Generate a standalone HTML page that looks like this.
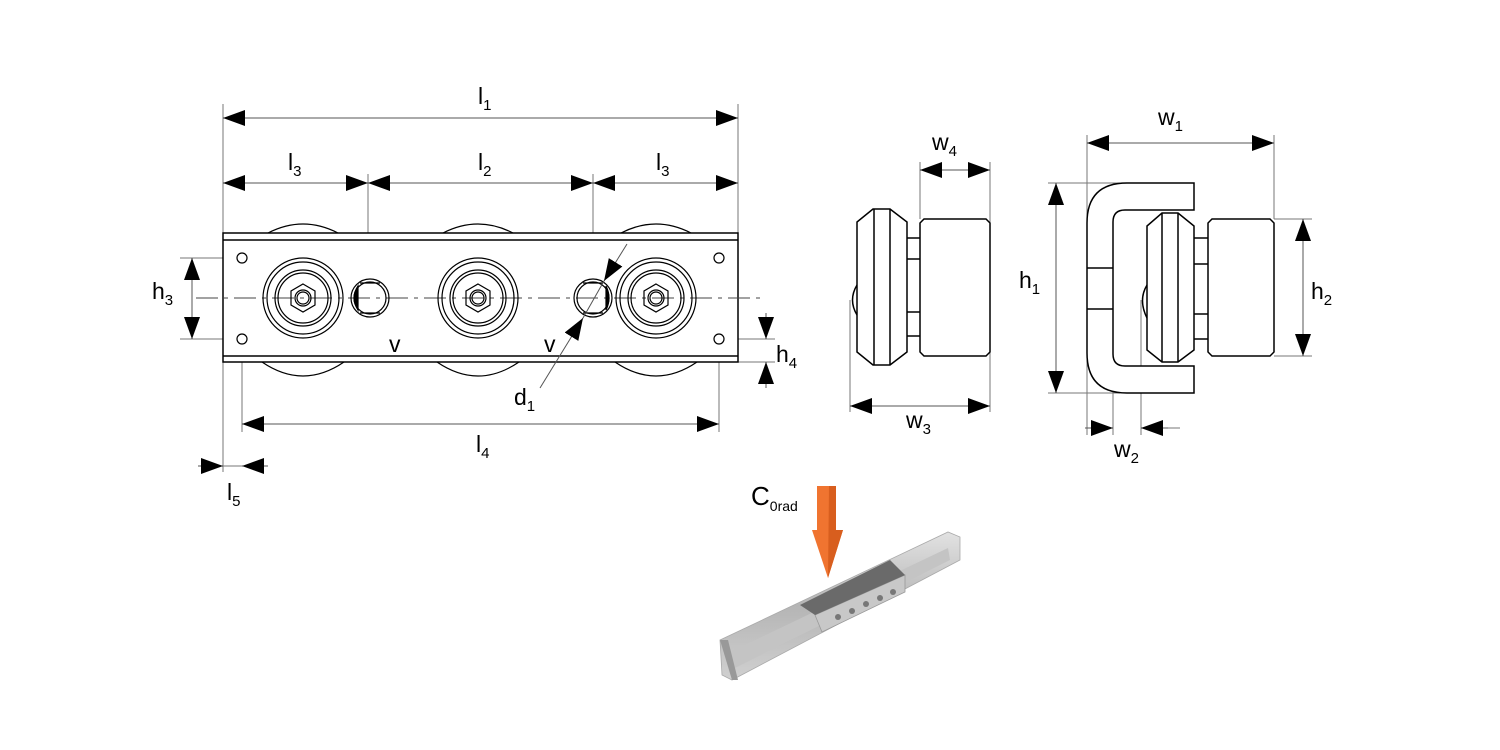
<!DOCTYPE html>
<html><head><meta charset="utf-8"><style>
html,body{margin:0;padding:0;background:#fff;}
svg{display:block;}
text{font-family:"Liberation Sans",Arial,sans-serif;fill:#000;}
</style></head><body>
<svg width="1500" height="750" viewBox="0 0 1500 750" xmlns="http://www.w3.org/2000/svg">
<defs>
<marker id="a" viewBox="0 0 22 16" refX="22" refY="8" markerWidth="22" markerHeight="16" markerUnits="userSpaceOnUse" orient="auto-start-reverse">
<path d="M0,0 L22,8 L0,16 Z" fill="#000"/></marker>
<linearGradient id="rail" x1="0" y1="0" x2="0" y2="1"><stop offset="0" stop-color="#e2e2e2"/><stop offset="0.5" stop-color="#b5b5b5"/><stop offset="1" stop-color="#d0d0d0"/></linearGradient>
</defs>
<g stroke="#000" fill="none" stroke-width="1">
<g stroke="#777" stroke-width="1">
<line x1="223" y1="104" x2="223" y2="233"/><line x1="738" y1="104" x2="738" y2="233"/>
<line x1="368" y1="174" x2="368" y2="298"/><line x1="593" y1="174" x2="593" y2="298"/>
<line x1="180" y1="258" x2="242" y2="258"/><line x1="180" y1="339" x2="242" y2="339"/>
<line x1="242" y1="339" x2="242" y2="432"/><line x1="719" y1="339" x2="719" y2="432"/>
<line x1="223" y1="362" x2="223" y2="472"/>
<line x1="719" y1="339" x2="775" y2="339"/><line x1="738" y1="362" x2="775" y2="362"/>
<line x1="242" y1="466" x2="223" y2="466"/>
<line x1="920" y1="162" x2="920" y2="219"/><line x1="990" y1="162" x2="990" y2="412"/>
<line x1="850" y1="300" x2="850" y2="412"/>
<line x1="1087" y1="135" x2="1087" y2="435"/><line x1="1274" y1="135" x2="1274" y2="219"/>
<line x1="1048" y1="183" x2="1120" y2="183"/><line x1="1048" y1="393" x2="1120" y2="393"/>
<line x1="1274" y1="219" x2="1312" y2="219"/><line x1="1274" y1="356" x2="1312" y2="356"/>
<line x1="1113" y1="366" x2="1113" y2="435"/><line x1="1141" y1="300" x2="1141" y2="435"/>
<line x1="1141" y1="428" x2="1180" y2="428"/>
</g>
<g stroke="#555">
<line x1="223" y1="118" x2="738" y2="118" marker-start="url(#a)" marker-end="url(#a)"/>
<line x1="223" y1="183" x2="368" y2="183" marker-start="url(#a)" marker-end="url(#a)"/>
<line x1="368" y1="183" x2="593" y2="183" marker-start="url(#a)" marker-end="url(#a)"/>
<line x1="593" y1="183" x2="738" y2="183" marker-start="url(#a)" marker-end="url(#a)"/>
<line x1="192" y1="258" x2="192" y2="339" marker-start="url(#a)" marker-end="url(#a)"/>
<line x1="242" y1="424" x2="719" y2="424" marker-start="url(#a)" marker-end="url(#a)"/>
<line x1="198" y1="466" x2="223" y2="466" marker-end="url(#a)"/>
<line x1="268" y1="466" x2="242" y2="466" marker-end="url(#a)"/>
<line x1="766" y1="313" x2="766" y2="339" marker-end="url(#a)"/>
<line x1="766" y1="388" x2="766" y2="362" marker-end="url(#a)"/>
<line x1="920" y1="170" x2="990" y2="170" marker-start="url(#a)" marker-end="url(#a)"/>
<line x1="850" y1="406" x2="990" y2="406" marker-start="url(#a)" marker-end="url(#a)"/>
<line x1="1087" y1="143" x2="1274" y2="143" marker-start="url(#a)" marker-end="url(#a)"/>
<line x1="1056" y1="183" x2="1056" y2="393" marker-start="url(#a)" marker-end="url(#a)"/>
<line x1="1303" y1="219" x2="1303" y2="356" marker-start="url(#a)" marker-end="url(#a)"/>
<line x1="1085" y1="428" x2="1113" y2="428" marker-end="url(#a)"/>
<line x1="1168" y1="428" x2="1141" y2="428" marker-end="url(#a)"/>
</g>
<g stroke-width="1.2">
<path d="M268,233 Q303,215 338,233"/><path d="M443,233 Q478,215 513,233"/><path d="M621,233 Q656,215 691,233"/>
<path d="M262,362 Q303,390 344,362"/><path d="M437,362 Q478,390 519,362"/><path d="M615,362 Q656,390 697,362"/>
<rect x="223" y="233" width="515" height="129" fill="#fff" stroke-width="1.5"/>
<line x1="223" y1="240" x2="738" y2="240" stroke-width="1.5"/>
<line x1="223" y1="356" x2="738" y2="356" stroke-width="1.5"/>
</g>
<line x1="196" y1="298" x2="762" y2="298" stroke="#444" stroke-dasharray="22,6,4,6" stroke-width="0.9"/>
<g stroke-width="1.2">
<circle cx="242" cy="258" r="5"/><circle cx="242" cy="339" r="5"/><circle cx="719" cy="258" r="5"/><circle cx="719" cy="339" r="5"/>
<g id="rol"><circle cx="303" cy="298" r="40"/><circle cx="303" cy="298" r="36"/><circle cx="303" cy="298" r="28"/><circle cx="303" cy="298" r="25"/>
<polygon points="303,284 315,291 315,305 303,312 291,305 291,291"/><circle cx="303" cy="298" r="8"/><circle cx="303" cy="298" r="6"/></g>
<use href="#rol" x="175"/><use href="#rol" x="353"/>
<circle cx="370" cy="298" r="19"/><circle cx="370" cy="298" r="16"/>
<line x1="360" y1="283" x2="380" y2="283"/><line x1="360" y1="313" x2="380" y2="313"/>
<path d="M358,286 Q350,298 358,310 Z" fill="#000"/>
<circle cx="593" cy="298" r="19"/><circle cx="593" cy="298" r="16"/>
<line x1="583" y1="283" x2="603" y2="283"/><line x1="583" y1="313" x2="603" y2="313"/>
<path d="M606,286 Q612,298 606,310 Z" fill="#000"/>
</g>
<g stroke="#555">
<line x1="540" y1="388" x2="583" y2="318" marker-end="url(#a)"/>
<line x1="627" y1="244" x2="604" y2="281" marker-end="url(#a)"/>
<line x1="583" y1="318" x2="604" y2="281"/>
</g>
<g stroke-width="1.5" fill="#fff">
<path d="M857,285 Q848,300 857,315"/>
<polygon points="873,209 890,209 907,222 907,352 890,365 873,365 857,352 857,222"/>
<line x1="874" y1="209" x2="874" y2="365"/><line x1="890" y1="209" x2="890" y2="365"/>
<line x1="907" y1="238" x2="920" y2="238"/><line x1="907" y1="259" x2="920" y2="259"/>
<line x1="907" y1="312" x2="920" y2="312"/><line x1="907" y1="336" x2="920" y2="336"/>
<path d="M924,219 H986 L990,223 V352 L986,356 H924 L920,352 V223 Z"/>
</g>
<g stroke-width="1.5">
<path d="M1194,183 V210 H1125 Q1113,210 1113,222 V354 Q1113,366 1125,366 H1194 V393 H1127 Q1087,393 1087,353 V223 Q1087,183 1127,183 Z" fill="#fff"/>
<line x1="1087" y1="268" x2="1113" y2="268"/><line x1="1087" y1="309" x2="1113" y2="309"/>
<path d="M1147,285 Q1138,300 1147,318"/>
<polygon points="1162,213 1178,213 1194,226 1194,350 1178,362 1162,362 1147,350 1147,226" fill="#fff"/>
<line x1="1162" y1="213" x2="1162" y2="362"/><line x1="1178" y1="213" x2="1178" y2="362"/>
<line x1="1194" y1="238" x2="1208" y2="238"/><line x1="1194" y1="264" x2="1208" y2="264"/>
<line x1="1194" y1="314" x2="1208" y2="314"/><line x1="1194" y1="339" x2="1208" y2="339"/>
<path d="M1212,219 H1270 L1274,223 V352 L1270,356 H1212 L1208,352 V223 Z" fill="#fff"/>
</g>
</g>
<g font-size="23">
<text x="478" y="104">l<tspan font-size="15" dy="6">1</tspan></text>
<text x="288" y="170">l<tspan font-size="15" dy="6">3</tspan></text>
<text x="478" y="170">l<tspan font-size="15" dy="6">2</tspan></text>
<text x="656" y="170">l<tspan font-size="15" dy="6">3</tspan></text>
<text x="152" y="299">h<tspan font-size="15" dy="6">3</tspan></text>
<text x="776" y="362">h<tspan font-size="15" dy="6">4</tspan></text>
<text x="389" y="352">v</text><text x="544" y="352">v</text>
<text x="514" y="405">d<tspan font-size="15" dy="6">1</tspan></text>
<text x="476" y="452">l<tspan font-size="15" dy="6">4</tspan></text>
<text x="227" y="500">l<tspan font-size="15" dy="6">5</tspan></text>
<text x="932" y="150">w<tspan font-size="15" dy="6">4</tspan></text>
<text x="906" y="428">w<tspan font-size="15" dy="6">3</tspan></text>
<text x="1158" y="125">w<tspan font-size="15" dy="6">1</tspan></text>
<text x="1019" y="288">h<tspan font-size="15" dy="6">1</tspan></text>
<text x="1311" y="299">h<tspan font-size="15" dy="6">2</tspan></text>
<text x="1114" y="457">w<tspan font-size="15" dy="6">2</tspan></text>
<text x="751" y="505" font-size="26">C<tspan font-size="14" dy="6">0rad</tspan></text>
</g>
<g>
<polygon points="720,640 948,532 960,537 960,560 732,680 722,675" fill="url(#rail)" stroke="#aaa" stroke-width="0.8"/>
<polygon points="730,652 948,548 950,560 735,668" fill="#c4c4c4"/>
<polygon points="815,615 905,575 905,592 822,632" fill="#c8c8c8" stroke="#999" stroke-width="0.8"/>
<polygon points="800,605 890,560 905,575 815,615" fill="#6a6a6a"/>
<g fill="#777"><circle cx="838" cy="617" r="3"/><circle cx="852" cy="611" r="3"/><circle cx="866" cy="604" r="3"/><circle cx="880" cy="598" r="3"/><circle cx="893" cy="592" r="3"/></g>
<polygon points="720,640 732,680 738,680 728,640" fill="#999"/>
<polygon points="817,486 836,486 836,530 843,530 828,578 812,530 817,530" fill="#f07430"/>
<polygon points="829,486 836,486 836,530 843,530 828,578" fill="#d85e1e"/>
</g>
</svg>
</body></html>
